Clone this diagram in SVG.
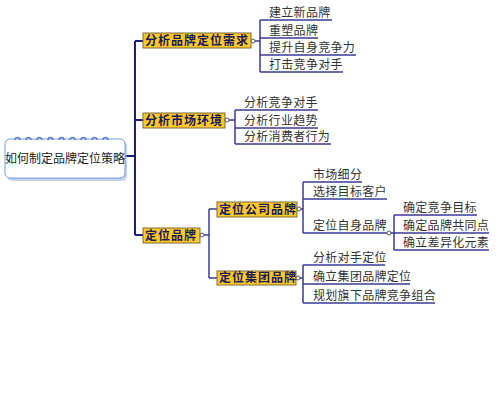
<svg xmlns="http://www.w3.org/2000/svg" width="500" height="418" viewBox="0 0 500 418">
<style>
.box{fill:#FFC926;stroke:#7a6a3a;stroke-width:1}
.bt{font-family:"Noto Sans CJK SC","Noto Sans CJK TC",sans-serif;font-size:12px;font-weight:bold;fill:#1a1a5e;letter-spacing:1px}
.ct{font-family:"Noto Sans CJK SC","Noto Sans CJK TC",sans-serif;font-size:12px;fill:#333;letter-spacing:0.3px}
.main{fill:none;stroke:#1c1c80;stroke-width:2}
.sub{fill:none;stroke:#3a3a99;stroke-width:1.5}
.ul{fill:none;stroke:#3a3a99;stroke-width:1.5}
.dot{fill:#fff;stroke:#555;stroke-width:1}
.ring{fill:none;stroke:#5b7fd6;stroke-width:1.5}
</style>
<rect width="500" height="418" fill="#fff"/>
<g id="connectors">
<path class="main" d="M125,156 H135 M135,41 V235 M135,41 H143 M135,120 H143 M135,235 H143"/>
<path class="sub" d="M253,41 H260 M260,20 V72"/>
<path class="sub" d="M227,120 H235 M235,110 V144"/>
<path class="sub" d="M202,235 H209 M209,209 V278 M209,209 H217 M209,278 H217"/>
<path class="sub" d="M299,209 H303 M303,182 V233"/>
<path class="sub" d="M389,233 H394 M394,215 V250"/>
<path class="sub" d="M298,278 H303 M303,265 V303"/>
</g>
<g id="root">
<rect x="7" y="141" width="120" height="40" rx="5" fill="#9bb3e6" opacity="0.6"/>
<rect x="5" y="139" width="120" height="39" rx="5" fill="#fff" stroke="#7d98d8" stroke-width="1"/>
<g class="ring">
<path d="M15,140 a2.5,2.5 0 1 1 5,0 M26,140 a2.5,2.5 0 1 1 5,0 M37,140 a2.5,2.5 0 1 1 5,0 M48,140 a2.5,2.5 0 1 1 5,0 M59,140 a2.5,2.5 0 1 1 5,0 M70,140 a2.5,2.5 0 1 1 5,0 M81,140 a2.5,2.5 0 1 1 5,0 M92,140 a2.5,2.5 0 1 1 5,0 M103,140 a2.5,2.5 0 1 1 5,0"/>
</g>
<text class="ct" x="5" y="163" style="letter-spacing:0;fill:#222">如何制定品牌定位策略</text>
</g>
<g id="n1">
<rect class="box" x="143" y="33" width="108" height="15"/>
<text class="bt" x="145" y="45">分析品牌定位需求</text>
<circle class="dot" cx="253" cy="41" r="2"/>
</g>
<g id="n1a"><text class="ct" x="269" y="17">建立新品牌</text><path class="ul" d="M260,20 H332"/></g>
<g id="n1b"><text class="ct" x="269" y="35">重塑品牌</text><path class="ul" d="M260,38 H318"/></g>
<g id="n1c"><text class="ct" x="269" y="52">提升自身竞争力</text><path class="ul" d="M260,55 H356"/></g>
<g id="n1d"><text class="ct" x="269" y="69">打击竞争对手</text><path class="ul" d="M260,72 H343"/></g>
<g id="n2">
<rect class="box" x="143" y="113" width="82" height="15"/>
<text class="bt" x="145" y="125">分析市场环境</text>
<circle class="dot" cx="227" cy="120" r="2"/>
</g>
<g id="n2a"><text class="ct" x="244" y="107">分析竞争对手</text><path class="ul" d="M235,110 H318"/></g>
<g id="n2b"><text class="ct" x="244" y="125">分析行业趋势</text><path class="ul" d="M235,128 H318"/></g>
<g id="n2c"><text class="ct" x="244" y="141">分析消费者行为</text><path class="ul" d="M235,144 H331"/></g>
<g id="n3">
<rect class="box" x="143" y="228" width="57" height="15"/>
<text class="bt" x="145" y="240">定位品牌</text>
<circle class="dot" cx="202" cy="235" r="2"/>
</g>
<g id="n31">
<rect class="box" x="217" y="202" width="80" height="15"/>
<text class="bt" x="219" y="214">定位公司品牌</text>
<circle class="dot" cx="299" cy="209" r="2"/>
</g>
<g id="n31a"><text class="ct" x="313" y="179">市场细分</text><path class="ul" d="M303,182 H362"/></g>
<g id="n31b"><text class="ct" x="313" y="196">选择目标客户</text><path class="ul" d="M303,199 H387"/></g>
<g id="n31c"><text class="ct" x="313" y="230">定位自身品牌</text><path class="ul" d="M303,233 H387"/><circle class="dot" cx="389" cy="233" r="2"/></g>
<g id="n31c1"><text class="ct" x="403" y="212">确定竞争目标</text><path class="ul" d="M394,215 H477"/></g>
<g id="n31c2"><text class="ct" x="403" y="230">确定品牌共同点</text><path class="ul" d="M394,233 H489"/></g>
<g id="n31c3"><text class="ct" x="403" y="247">确立差异化元素</text><path class="ul" d="M394,250 H489"/></g>
<g id="n32">
<rect class="box" x="217" y="271" width="79" height="14"/>
<text class="bt" x="219" y="282">定位集团品牌</text>
<circle class="dot" cx="298" cy="278" r="2"/>
</g>
<g id="n32a"><text class="ct" x="313" y="262">分析对手定位</text><path class="ul" d="M303,265 H385"/></g>
<g id="n32b"><text class="ct" x="313" y="281">确立集团品牌定位</text><path class="ul" d="M303,284 H410"/></g>
<g id="n32c"><text class="ct" x="313" y="300">规划旗下品牌竞争组合</text><path class="ul" d="M303,303 H435"/></g>
</svg>
